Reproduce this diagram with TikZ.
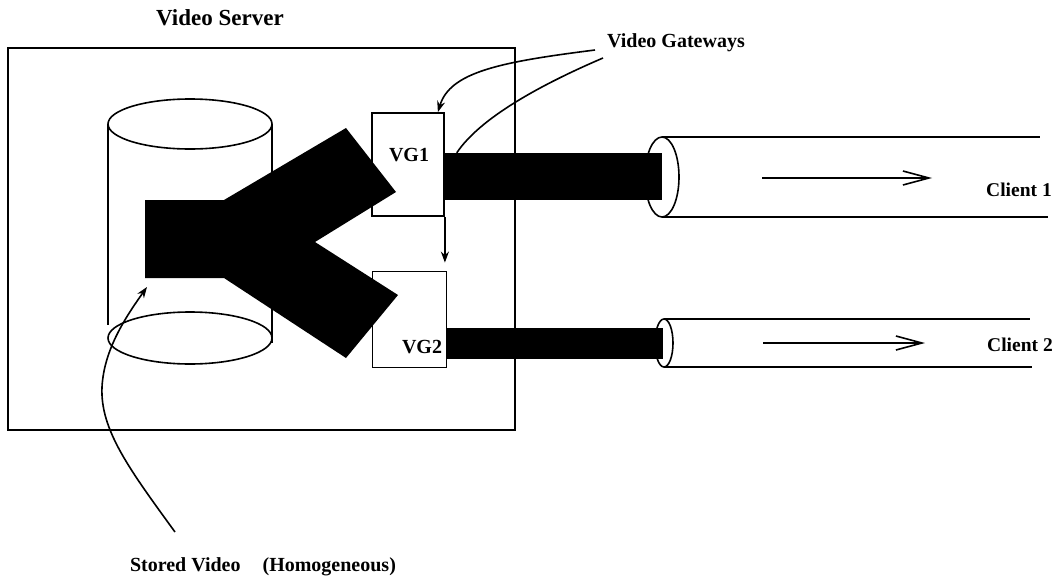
\documentclass[tikz,border=0pt]{standalone}
\usepackage{fontspec}
\setmainfont{Liberation Serif}
\usetikzlibrary{arrows.meta,calc}
\begin{document}
\begin{tikzpicture}[x=1pt,y=-1pt,
  frame/.style={draw,line width=2pt,inner sep=0pt},
  thinline/.style={draw,line width=1.6pt},
  gwbox/.style={draw,line width=1.8pt,fill=white,inner sep=0pt},
  bar/.style={fill=black,inner sep=0pt},
  lbl/.style={font=\fontsize{20}{24}\selectfont\bfseries,inner sep=0pt},
  ttl/.style={font=\fontsize{23}{27}\selectfont\bfseries,inner sep=0pt},
  lead/.style={line width=1.6pt,-{Stealth[length=11pt,width=8pt]}},
  flow/.style={line width=1.6pt,-{Straight Barb[length=26pt,width=14pt,line width=1.6pt]}}
]
\useasboundingbox (0,0) rectangle (1062,581);

% server frame and title
\node[frame,minimum width=507pt,minimum height=382pt] (server) at (261.5,239) {};
\node[ttl] (servert) at (220,18) {Video Server};

% storage cylinder
\draw[thinline] (108,124) -- (108,325);
\draw[thinline] (272,124) -- (272,343);
\draw[thinline] (190,124) ellipse [x radius=82pt,y radius=25pt];
\draw[thinline] (190,338) ellipse [x radius=82pt,y radius=26pt];

% gateways
\node[gwbox,minimum width=72pt,minimum height=103pt] (vg1) at (408,164.5) {};
\node[gwbox,minimum width=74pt,minimum height=96pt] (vg2) at (409.5,319.5) {};

% Y-shaped stream
\fill (145,200) -- (224,200) -- (346,128) -- (396,192) -- (315,242)
      -- (398,295) -- (346,358) -- (224,278) -- (145,278) -- cycle;

% tubes
\draw[thinline] (662,177) ellipse [x radius=17pt,y radius=40pt];
\draw[thinline] (664,343) ellipse [x radius=9pt,y radius=24pt];
\draw[thinline] (662,137) -- (1040,137);
\draw[thinline] (662,217) -- (1048,217);
\draw[thinline] (664,319) -- (1030,319);
\draw[thinline] (664,367) -- (1032,367);

% black links
\node[bar,minimum width=218pt,minimum height=47pt] (bar1) at (553,176.5) {};
\node[bar,minimum width=217pt,minimum height=31pt] (bar2) at (554.5,343.5) {};

% flow arrows
\coordinate (f1a) at (762,178);
\coordinate (f1b) at (932,178);
\coordinate (f2a) at (763,343);
\coordinate (f2b) at (925,343);
\draw[flow] (f1a) -- (f1b);
\draw[flow] (f2a) -- (f2b);

% labels
\node[lbl] (vg1l) at (409,155) {VG1};
\node[lbl] (vg2l) at (422,347) {VG2};
\node[lbl,font=\fontsize{19.5}{23}\selectfont\bfseries] (c1) at (1019,190) {Client 1};
\node[lbl,font=\fontsize{19.5}{23}\selectfont\bfseries] (c2) at (1020,345) {Client 2};
\node[lbl] (vgw) at (676,43) {Video Gateways};
\node[lbl] (sv) at (263,567) {Stored Video\hspace{22pt}(Homogeneous)};

% gateway hand-over arrow
\draw[lead,shorten >=8pt] (vg1.south east) -- (vg1.south east |- vg2.north);

% leaders
\coordinate (gw1) at (595,50);
\coordinate (gw2) at (603,58);
\draw[lead] (gw1) .. controls (500,62) and (450,72) .. ([xshift=-7pt]vg1.north east);
\draw[line width=1.6pt] (gw2) .. controls (540,85) and (480,118) .. ([xshift=13pt]bar1.north west);

\coordinate (svs) at (175,532);
\coordinate (svt) at (147,287);
\draw[lead] (svs) .. controls (130,470) and (100,430) .. (102,387)
            .. controls (104,350) and (125,318) .. (svt);
\end{tikzpicture}
\end{document}
